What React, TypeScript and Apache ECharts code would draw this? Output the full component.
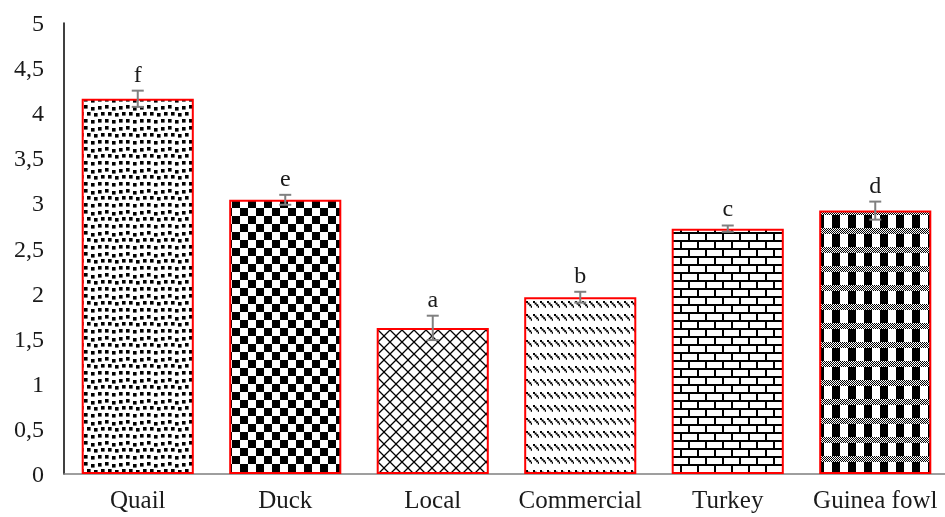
import React, { useEffect, useRef } from "react";
import * as echarts from "echarts";

const categories = ["Quail", "Duck", "Local", "Commercial", "Turkey", "Guinea fowl"];
const values = [4.16, 3.04, 1.62, 1.96, 2.72, 2.92];
const errors = [0.09, 0.055, 0.135, 0.06, 0.035, 0.1];
const letters = ["f", "e", "a", "b", "c", "d"];
const yTicks = ["0", "0,5", "1", "1,5", "2", "2,5", "3", "3,5", "4", "4,5", "5"];

type Drawer = (ctx: CanvasRenderingContext2D, w: number, h: number) => void;

function makePattern(w: number, h: number, draw: Drawer) {
  const c = document.createElement("canvas");
  c.width = w;
  c.height = h;
  const ctx = c.getContext("2d")!;
  ctx.fillStyle = "#fff";
  ctx.fillRect(0, 0, w, h);
  ctx.fillStyle = "#000";
  ctx.strokeStyle = "#000";
  draw(ctx, w, h);
  return { image: c.toDataURL(), repeat: "repeat", imageWidth: w, imageHeight: h } as any;
}

function buildPatterns() {
  const quail = makePattern(21, 21, (ctx) => {
    const pts = [
      [0, 0], [7, 2], [14, 1], [3, 7], [10, 8], [17, 7], [0, 14], [7, 15], [14, 14],
    ];
    pts.forEach(([x, y]) => ctx.fillRect(x, y, 3.6, 3.6));
  });
  const duck = makePattern(16, 16, (ctx) => {
    ctx.fillRect(0, 0, 8, 8);
    ctx.fillRect(8, 8, 8, 8);
  });
  const local = makePattern(12, 12, (ctx) => {
    ctx.lineWidth = 1.3;
    ctx.beginPath();
    ctx.moveTo(-1, -1);
    ctx.lineTo(13, 13);
    ctx.moveTo(13, -1);
    ctx.lineTo(-1, 13);
    ctx.stroke();
  });
  const commercial = makePattern(7, 13, (ctx) => {
    for (let i = 0; i < 4; i++) ctx.fillRect(1 + i * 1.6, 2 + i * 1.6, 2, 2);
  });
  const turkey = makePattern(34, 16, (ctx) => {
    ctx.fillRect(0, 0, 34, 2);
    ctx.fillRect(0, 8, 34, 2);
    ctx.fillRect(0, 0, 2, 8);
    ctx.fillRect(17, 0, 2, 8);
    ctx.fillRect(8, 8, 2, 8);
    ctx.fillRect(25, 8, 2, 8);
  });
  const guinea = makePattern(16, 19, (ctx) => {
    ctx.fillRect(0, 0, 8, 19);
    ctx.fillStyle = "#fff";
    ctx.fillRect(0, 0, 16, 6);
    ctx.fillStyle = "#000";
    for (let y = 0; y < 6; y++) {
      for (let x = 0; x < 16; x++) {
        if ((x + y) % 2 === 0) ctx.fillRect(x, y, 1, 1);
      }
    }
  });
  return [quail, duck, local, commercial, turkey, guinea];
}

export default function App() {
  const ref = useRef<HTMLDivElement>(null);
  useEffect(() => {
    if (!ref.current) return;
    const chart = echarts.init(ref.current, null, { renderer: "svg" });
    const patterns = buildPatterns();
    const font = "Liberation Serif";
    chart.setOption({
      animation: false,
      textStyle: { fontFamily: font },
      grid: { left: 64, right: 11, top: 23, bottom: 43 },
      xAxis: {
        type: "category",
        data: categories,
        axisLine: { show: true, lineStyle: { color: "#7f7f7f", width: 1.5 } },
        axisTick: { show: false },
        axisLabel: { color: "#1a1a1a", fontSize: 25, fontFamily: font, margin: 13, interval: 0 },
      },
      yAxis: {
        type: "value",
        min: 0,
        max: 5,
        interval: 0.5,
        axisLine: { show: true, lineStyle: { color: "#000", width: 1.5 } },
        axisTick: { show: false },
        splitLine: { show: false },
        axisLabel: {
          color: "#1a1a1a",
          fontSize: 24,
          fontFamily: font,
          margin: 20,
          formatter: (v: number) => yTicks[Math.round(v * 2)] ?? String(v),
        },
      },
      series: [
        {
          type: "bar",
          barWidth: "76%",
          data: values.map((v, i) => ({
            value: v,
            itemStyle: { color: patterns[i], borderColor: "#ff0000", borderWidth: 2 },
          })),
        },
        {
          type: "custom",
          data: values.map((v, i) => [i, v, errors[i]]),
          z: 10,
          renderItem: (params: any, api: any) => {
            const idx = api.value(0);
            const v = api.value(1);
            const e = api.value(2);
            const top = api.coord([idx, v + e]);
            const bot = api.coord([idx, v - e]);
            const x = top[0];
            const hw = 6;
            const st = { stroke: "#808080", lineWidth: 2 };
            return {
              type: "group",
              children: [
                { type: "line", shape: { x1: x, y1: top[1], x2: x, y2: bot[1] }, style: st },
                { type: "line", shape: { x1: x - hw, y1: top[1], x2: x + hw, y2: top[1] }, style: st },
                { type: "line", shape: { x1: x - hw, y1: bot[1], x2: x + hw, y2: bot[1] }, style: st },
                {
                  type: "text",
                  x: x,
                  y: top[1] - 5,
                  style: {
                    text: letters[idx],
                    fill: "#1a1a1a",
                    fontSize: 24,
                    fontFamily: font,
                    textAlign: "center",
                    textVerticalAlign: "bottom",
                  },
                },
              ],
            };
          },
        },
      ],
    });
    return () => chart.dispose();
  }, []);
  return <div ref={ref} style={{ width: 960, height: 517, position: "fixed", left: 0, top: 0 }} />;
}
